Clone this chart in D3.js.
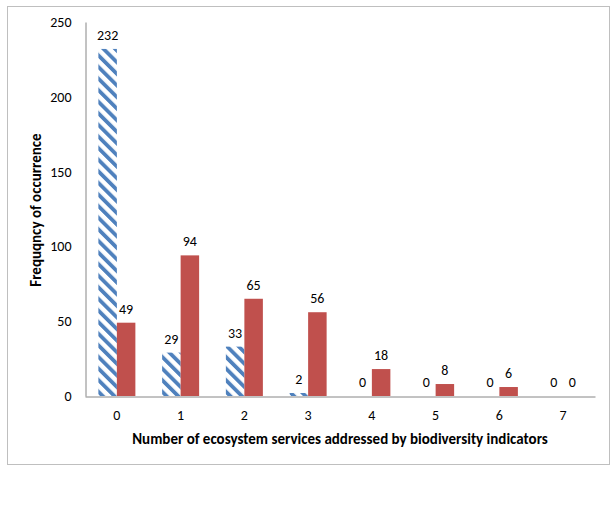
<!DOCTYPE html>
<html><head><meta charset="utf-8">
<script src="https://cdn.jsdelivr.net/npm/d3@7"></script>
<style>
html,body{margin:0;padding:0;background:#fff;}
text{font-family:Carlito, Lato, "Open Sans", sans-serif;fill:#000;}
</style></head>
<body><svg id="c" width="616" height="505"></svg>
<script>
const categories = ["0","1","2","3","4","5","6","7"];
const seriesNames = ["Biodiversity indicators","Ecosystem services"];
const seriesA = [232, 29, 33, 2, 0, 0, 0, 0];
const seriesB = [49, 94, 65, 56, 18, 8, 6, 0];
const yTicks = [0, 50, 100, 150, 200, 250];
const xTitle = "Number of ecosystem services addressed by biodiversity indicators";
const yTitle = "Frequqncy of occurrence";

const FONT = "Carlito, Lato, sans-serif";
const svg = d3.select("#c");
const defs = svg.append("defs");
const pat = defs.append("pattern").attr("id","hatch").attr("patternUnits","userSpaceOnUse")
  .attr("width",8.2).attr("height",8.2).attr("patternTransform","rotate(-45)");
pat.append("rect").attr("width",8.2).attr("height",8.2).attr("fill","#fff");
pat.append("rect").attr("x",0).attr("y",0).attr("width",3.8).attr("height",8.2).attr("fill","#4f81bd");

// outer frame
svg.append("rect").attr("x",7.5).attr("y",6.5).attr("width",602).attr("height",458)
  .attr("fill","none").attr("stroke","#bfbfbf").attr("stroke-width",1);

const x0 = d3.scaleBand().domain(categories).range([85,595]).padding(0);
const x1 = d3.scaleBand().domain(seriesNames).range([0,37]).padding(0);
const y = d3.scaleLinear().domain([0,250]).range([396,22]);

const data = categories.map((c,i)=>({c, vals:[{s:seriesNames[0],v:seriesA[i]},{s:seriesNames[1],v:seriesB[i]}]}));
const g = svg.append("g");
const grp = g.selectAll("g.cat").data(data).join("g")
  .attr("transform",d=>`translate(${x0(d.c)+x0.bandwidth()/2-18.5},0)`);
grp.selectAll("rect").data(d=>d.vals).join("rect")
  .attr("x",d=>x1(d.s)).attr("width",x1.bandwidth())
  .attr("y",d=>y(d.v)).attr("height",d=>y(0)-y(d.v))
  .attr("fill",(d,i)=>i===0?"url(#hatch)":"#c0504d");
grp.selectAll("text").data(d=>d.vals).join("text")
  .attr("x",d=>x1(d.s)+x1.bandwidth()/2).attr("y",d=>y(d.v)-9)
  .attr("text-anchor","middle").attr("font-size",14).text(d=>d.v);

// y axis
const yAxis = d3.axisLeft(y).tickValues(yTicks).tickSize(0).tickPadding(14);
const ya = svg.append("g").attr("transform","translate(85.5,0)").call(yAxis);
ya.select(".domain").attr("stroke","#868686");
ya.selectAll("text").attr("font-size",14).attr("font-family",FONT).attr("fill","#000");

// x axis
const xAxis = d3.axisBottom(x0).tickSize(0).tickPadding(14);
const xa = svg.append("g").attr("transform","translate(0,396.5)").call(xAxis);
xa.select(".domain").attr("stroke","#868686");
xa.selectAll("text").attr("font-size",14).attr("font-family",FONT).attr("fill","#000");

svg.append("text").attr("x",340).attr("y",444).attr("text-anchor","middle")
  .attr("font-size",15).attr("font-weight","bold").text(xTitle);
svg.append("text").attr("transform","translate(41,210) rotate(-90)").attr("text-anchor","middle")
  .attr("font-size",15).attr("font-weight","bold").text(yTitle);
</script></body></html>
